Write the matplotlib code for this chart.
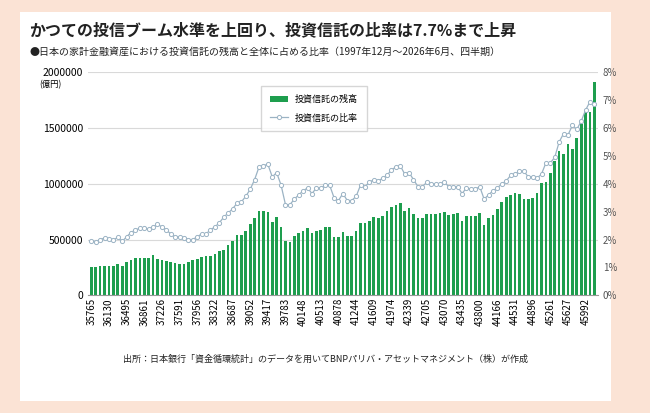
import matplotlib
matplotlib.use("Agg")
import matplotlib.pyplot as plt
import numpy as np
from matplotlib.patches import Rectangle
from matplotlib.ticker import FuncFormatter

plt.rcParams['font.family'] = ['Noto Sans CJK JP', 'DejaVu Sans']

labels = ["35765","36130","36495","36861","37226","37591","37956","38322","38687","39052",
          "39417","39783","40148","40513","40878","41244","41609","41974","42339","42705",
          "43070","43435","43800","44166","44531","44896","45261","45627","45992"]

balance = [255,250,262,262, 260,262,280,260, 295,315,330,335, 335,335,360,325,
           320,305,295,290, 285,285,300,315, 325,345,350,355, 370,395,410,450,
           490,540,540,580, 640,690,760,760, 750,660,700,610, 490,480,530,560,
           580,600,555,580, 585,610,610,525, 520,565,530,535, 580,650,650,665,
           700,690,710,760, 790,810,830,760, 785,730,690,690, 730,725,725,740,
           750,720,725,740, 670,715,710,710, 740,630,690,720, 770,840,880,900,
           920,910,860,860, 870,920,1010,1020, 1100,1200,1290,1270, 1360,1310,1410,1540,
           1650,1640,1910]
balance = [v * 1000 for v in balance]

ratio = [1.95,1.92,2.0,2.05, 2.02,1.98,2.08,1.93, 2.1,2.25,2.35,2.4, 2.4,2.38,2.45,2.55,
         2.45,2.35,2.2,2.1, 2.1,2.05,2.0,2.0, 2.1,2.2,2.2,2.35, 2.45,2.6,2.8,2.95,
         3.1,3.3,3.35,3.55, 3.8,4.15,4.6,4.65, 4.7,4.25,4.4,3.95, 3.25,3.25,3.45,3.6,
         3.75,3.85,3.65,3.85, 3.85,3.95,3.95,3.5, 3.4,3.65,3.4,3.4, 3.55,3.95,3.9,4.05,
         4.15,4.1,4.2,4.3, 4.5,4.6,4.65,4.35, 4.4,4.15,3.9,3.9, 4.05,4.0,4.0,4.0,
         4.05,3.9,3.9,3.9, 3.65,3.85,3.8,3.8, 3.9,3.45,3.6,3.75, 3.85,4.0,4.1,4.3,
         4.35,4.45,4.45,4.25, 4.25,4.2,4.35,4.75, 4.75,4.95,5.5,5.8, 5.75,6.1,5.95,6.25,
         6.65,6.95,6.85,7.7]
n = min(len(balance), len(ratio))
balance = balance[:n]; ratio = ratio[:n]

fig = plt.figure(figsize=(6.5, 4.13), dpi=100)
fig.patch.set_facecolor('#fbe3d5')
fig.add_artist(Rectangle((0.03, 0.03), 0.91, 0.94, transform=fig.transFigure,
                         facecolor='white', edgecolor='none', zorder=0))

fig.text(0.045, 0.915, "かつての投信ブーム水準を上回り、投資信託の比率は7.7%まで上昇",
         fontsize=11.5, fontweight='bold', color='#222')
fig.text(0.045, 0.868, "●日本の家計金融資産における投資信託の残高と全体に占める比率（1997年12月～2026年6月、四半期）",
         fontsize=7.2, color='#222')

ax = fig.add_axes([0.135, 0.285, 0.785, 0.54])
x = np.arange(n)
ax.bar(x, balance, width=0.6, color='#1e9e4e', label='投資信託の残高', zorder=2)
ax.set_ylim(0, 2000000)
ax.set_yticks(range(0, 2000001, 500000))
ax.yaxis.set_major_formatter(FuncFormatter(lambda v, p: f"{int(v)}"))
ax.set_xlim(-0.8, n - 0.2)
ax.set_xticks(x[::4])
ax.set_xticklabels(labels[:len(x[::4])], rotation=90, fontsize=7)
ax.tick_params(axis='y', labelsize=7.5, length=0)
ax.tick_params(axis='x', length=0, pad=2)
ax.grid(axis='y', color='#d9d9d9', lw=0.8, zorder=0)
for s in ['top', 'right', 'left']:
    ax.spines[s].set_visible(False)
ax.spines['bottom'].set_color('#999')
ax.text(-0.095, 0.965, "(億円)", transform=ax.transAxes, fontsize=6, va='top')

ax2 = ax.twinx()
ax2.plot(x, ratio, color='#9bb3c4', lw=0.9, marker='o', ms=3, mfc='white',
         mec='#9bb3c4', mew=0.7, label='投資信託の比率', zorder=3)
ax2.set_ylim(0, 8)
ax2.set_yticks(range(0, 9))
ax2.set_yticklabels([f"{i}%" for i in range(9)])
ax2.tick_params(axis='y', labelsize=7, length=0, colors='#555')
for s in ['top', 'right', 'left', 'bottom']:
    ax2.spines[s].set_visible(False)

h1, l1 = ax.get_legend_handles_labels()
h2, l2 = ax2.get_legend_handles_labels()
ax.legend(h1 + h2, l1 + l2, loc='upper left', bbox_to_anchor=(0.33, 0.96),
          fontsize=6.5, frameon=True, edgecolor='#ccc', fancybox=False,
          borderpad=1.0, labelspacing=1.0)

fig.text(0.5, 0.125, "出所：日本銀行「資金循環統計」のデータを用いてBNPパリバ・アセットマネジメント（株）が作成",
         fontsize=6.5, ha='center', color='#222')

fig.savefig("out.png", dpi=100, facecolor=fig.get_facecolor())
